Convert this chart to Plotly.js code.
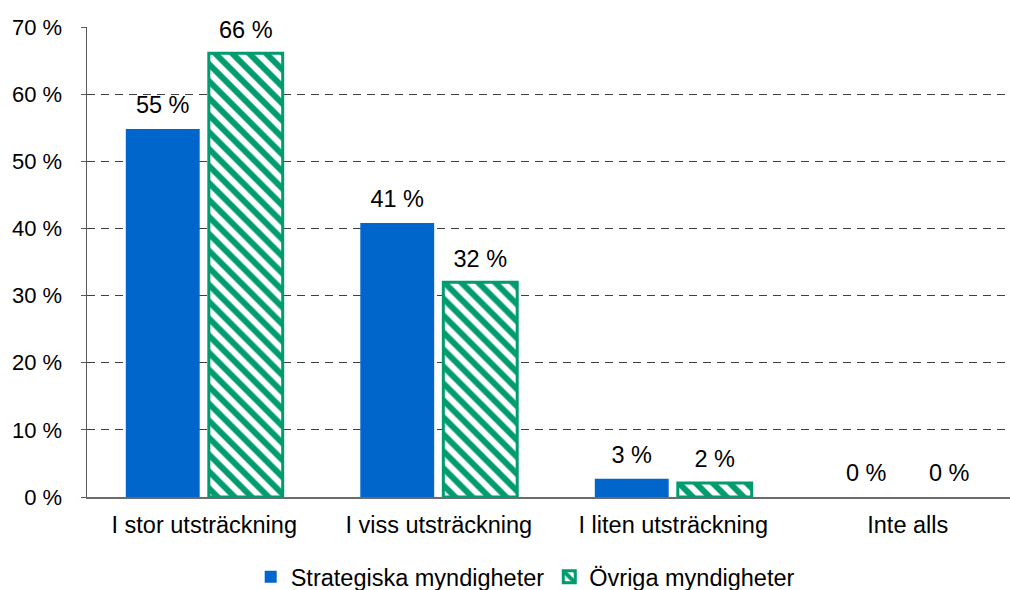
<!DOCTYPE html>
<html>
<head>
<meta charset="utf-8">
<script src="https://cdn.plot.ly/plotly-3.0.1.min.js"></script>
<style>html,body{margin:0;padding:0;background:#fff;}</style>
</head>
<body>
<div id="chart" style="width:1010px;height:590px;"></div>
<script>
const categories = ["I stor utsträckning", "I viss utsträckning", "I liten utsträckning", "Inte alls"];
const strategiska = [54.8, 40.8, 2.7, 0];
const ovriga = [66.1, 32.0, 2.1, 0];
const strategiskaLabels = ["55 %", "41 %", "3 %", "0 %"];
const ovrigaLabels = ["66 %", "32 %", "2 %", "0 %"];
const yTicks = [0, 10, 20, 30, 40, 50, 60, 70];
const yTickLabels = ["0 %", "10 %", "20 %", "30 %", "40 %", "50 %", "60 %", "70 %"];

const FAM = "Liberation Sans, Arial, sans-serif";
const font = {family: FAM, size: 23.5, color: "#000"};
const yFont = {family: FAM, size: 22, color: "#000"};
const BLUE = "#0066CC";
const GREEN = "#009B6E";

const traces = [
  {
    type: "bar", name: "Strategiska myndigheter", x: categories, y: strategiska,
    hoverinfo: "none",
    marker: {color: BLUE, line: {width: 0}}
  },
  {
    type: "bar", name: "Övriga myndigheter", x: categories, y: ovriga,
    hoverinfo: "none",
    marker: {color: "#ffffff", line: {color: GREEN, width: ovriga.map(v => v > 0 ? 3 : 0)},
      pattern: {shape: "\\", fgcolor: GREEN, bgcolor: "#ffffff", fgopacity: 1, size: 12, solidity: 0.5, fillmode: "replace"}}
  },
  {
    type: "scatter", mode: "markers+text", x: categories, y: strategiska,
    text: strategiskaLabels, textposition: "top center", textfont: font,
    marker: {size: 14, opacity: 0, color: BLUE}, showlegend: false, hoverinfo: "none", cliponaxis: false
  },
  {
    type: "scatter", mode: "markers+text", x: categories, y: ovriga,
    text: ovrigaLabels, textposition: "top center", textfont: font,
    marker: {size: 14, opacity: 0, color: GREEN}, showlegend: false, hoverinfo: "none", cliponaxis: false
  }
];

const layout = {
  width: 1010, height: 590,
  margin: {l: 87, r: 0, t: 27, b: 93},
  paper_bgcolor: "#fff", plot_bgcolor: "#fff",
  font: font,
  barmode: "group", bargap: 0.292, bargroupgap: 0.11,
  scattermode: "group", scattergap: 0.292,
  showlegend: true,
  legend: {orientation: "h", xref: "container", yref: "container", x: 0.52, xanchor: "center", y: 0.022, yanchor: "middle", font: font, itemwidth: 30, tracegroupgap: 0},
  xaxis: {
    type: "category", range: [-0.5, 3.436], showgrid: false, showline: true, linecolor: "#6b6b6b", linewidth: 1.5,
    ticks: "", tickfont: font, zeroline: false, ticklabelstandoff: 6, automargin: false
  },
  yaxis: {
    range: [0, 70], tickvals: yTicks, ticktext: yTickLabels,
    showgrid: true, gridcolor: "#404040", griddash: "8px,6px", gridwidth: 1.2,
    showline: true, linecolor: "#595959", linewidth: 1.5,
    ticks: "outside", ticklen: 5, tickcolor: "#595959",
    ticklabelstandoff: 14, tickfont: yFont, zeroline: false, automargin: false
  }
};

Plotly.newPlot("chart", traces, layout, {displayModeBar: false, staticPlot: true});
</script>
</body>
</html>
